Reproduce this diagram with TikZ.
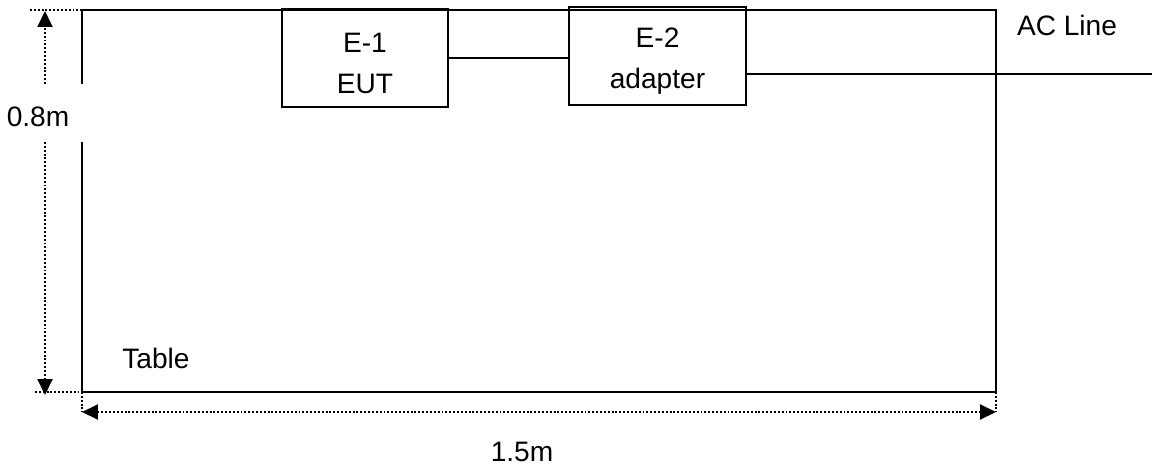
\documentclass[tikz,border=0pt]{standalone}
\usepackage{fontspec}
\setmainfont{Liberation Sans}
\usetikzlibrary{arrows.meta}

\begin{document}
\begin{tikzpicture}[
  x=0.02cm, y=0.02cm,
  font=\fontsize{16}{23.3}\selectfont,
  unit/.style={draw, line width=0.9pt, align=center, minimum height=1.96cm, inner sep=0pt},
  tbl/.style={line width=1.1pt},
  wire/.style={line width=0.8pt},
  dim/.style={line width=1.1pt, dash pattern=on 1.1pt off 1.1pt},
  dimarrow/.style={dim, -{Triangle[length=0.32cm, width=0.3cm]}},
  dimboth/.style={dim, {Triangle[length=0.32cm, width=0.3cm]}-{Triangle[length=0.32cm, width=0.3cm]}}
]
\useasboundingbox (0,0) rectangle (1155,468);

\draw[tbl] (82,384) -- (82,458) -- (996,458) -- (996,76) -- (82,76) -- (82,326);

\node[unit, minimum width=3.32cm] (e1) at (365,410) {\rule{0pt}{17pt}E-1\\EUT};
\node[unit, minimum width=3.54cm] (e2) at (657.5,412) {\rule{0pt}{17pt}E-2\\adapter};
\coordinate (acend) at (1152,394);

\draw[wire] (e1.east) -- (e1.east -| e2.west);
\draw[wire] (e2.east |- acend) -- (acend);

\node (ac) at (1067,443) {AC Line};
\node (tab) at (156,110) {Table};
\node (h) at (38,351) {0.8m};
\node (w) at (522,16) {1.5m};

\draw[dim] (30,458) -- (82,458);
\draw[dim] (35,76) -- (105,76);
\draw[dim] (82,76) -- (82,56);
\draw[dim] (996,76) -- (996,56);
\draw[dimarrow] (45,384) -- (45,457);
\draw[dimarrow] (45,326) -- (45,73);
\draw[dimboth] (82,56) -- (996,56);
\end{tikzpicture}
\end{document}
